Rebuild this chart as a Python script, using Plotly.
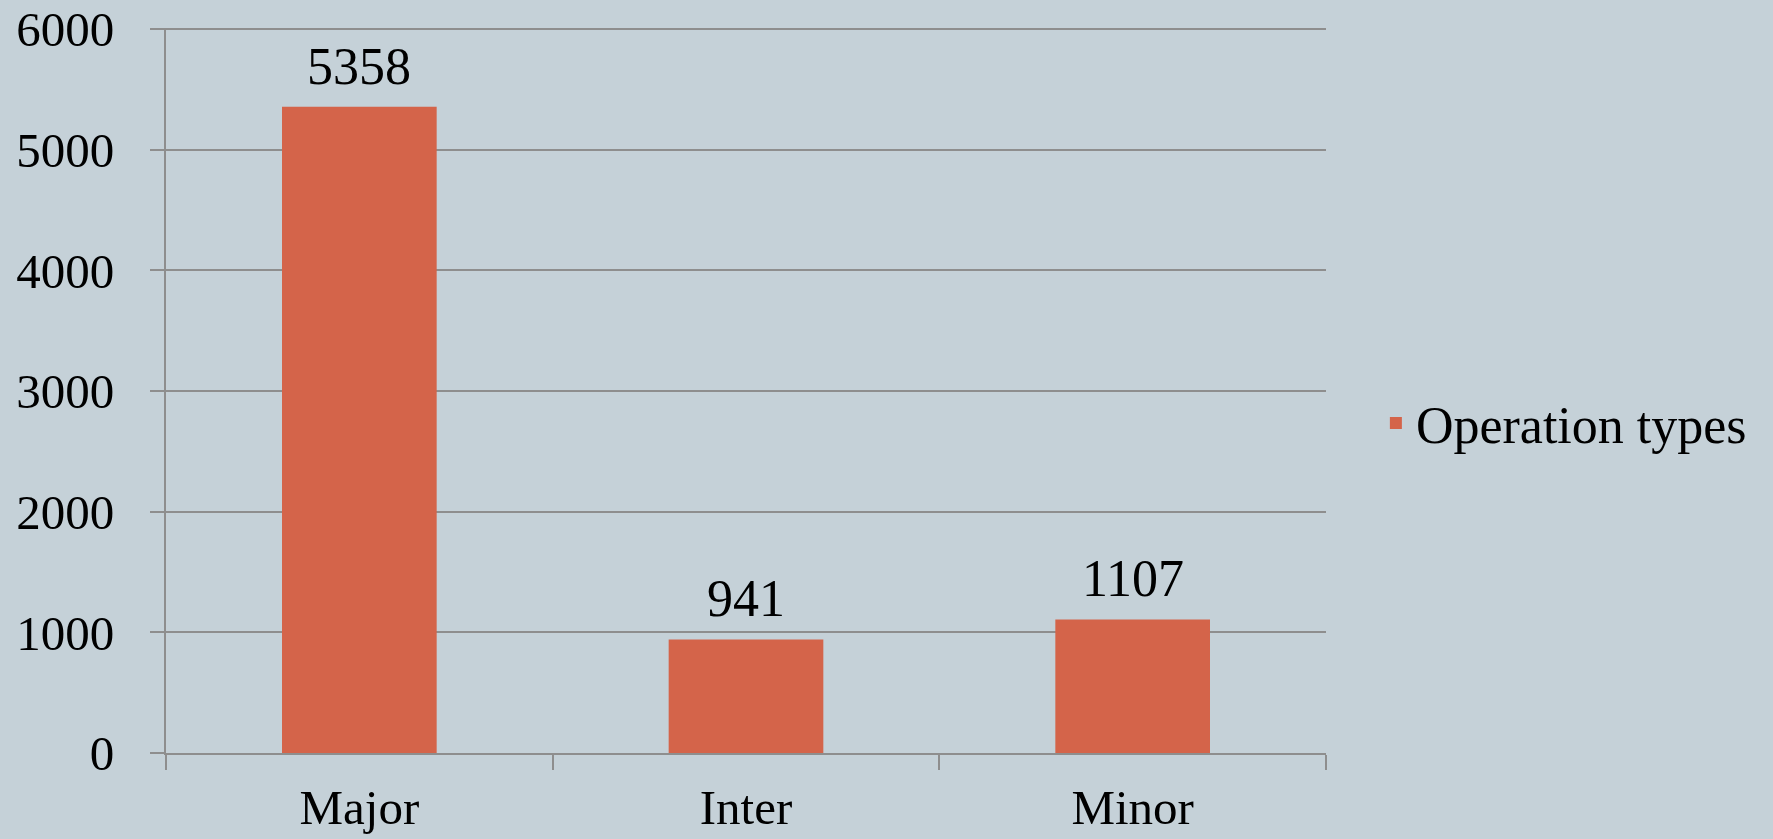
import plotly.graph_objects as go

# ── Colours ───────────────────────────────────────────────────────────────────
BG_COLOR = "#C5D1D8"
BAR_COLOR = "#D4644A"
GRID_COLOR = "#8E8E8E"
TEXT_COLOR = "#000000"
FONT = "Liberation Serif, Times New Roman, serif"

# ── Data ──────────────────────────────────────────────────────────────────────
categories = ["Major", "Inter", "Minor"]
values = [5358, 941, 1107]
series_name = "Operation types"
y_ticks = [0, 1000, 2000, 3000, 4000, 5000, 6000]

fig = go.Figure()
fig.add_trace(go.Bar(
    name=series_name,
    x=categories,
    y=values,
    marker=dict(color=BAR_COLOR, line=dict(width=0)),
    showlegend=True,
))

# value labels above bars
for cat, val in zip(categories, values):
    fig.add_annotation(
        x=cat, y=val, text=str(val), showarrow=False,
        yanchor="bottom", yshift=10,
        font=dict(family=FONT, size=52, color=TEXT_COLOR),
    )

fig.update_layout(
    paper_bgcolor=BG_COLOR,
    plot_bgcolor=BG_COLOR,
    width=1773,
    height=839,
    font=dict(family=FONT, color=TEXT_COLOR, size=50),
    margin=dict(l=166, r=447, t=28, b=86),
    bargap=0.6,
    showlegend=True,
    legend=dict(
        x=1.043, y=0.455, xanchor="left", yanchor="middle",
        bgcolor="rgba(0,0,0,0)",
        font=dict(family=FONT, size=52, color=TEXT_COLOR),
    ),
    xaxis=dict(
        automargin=False,
        showgrid=False,
        showline=True, linecolor=GRID_COLOR, linewidth=2,
        ticks="outside", tickson="boundaries", ticklen=15,
        tickcolor=GRID_COLOR, tickwidth=2,
        tickfont=dict(family=FONT, size=49, color=TEXT_COLOR),
        ticklabelstandoff=10,
        ticklabeloverflow="allow",
    ),
    yaxis=dict(
        automargin=False,
        range=[0, 6010],
        tickvals=y_ticks,
        showgrid=True, gridcolor=GRID_COLOR, gridwidth=2,
        showline=True, linecolor=GRID_COLOR, linewidth=2,
        ticks="outside", ticklen=14, tickcolor=GRID_COLOR, tickwidth=2,
        tickfont=dict(family=FONT, size=49, color=TEXT_COLOR),
        ticklabelstandoff=26,
        ticklabeloverflow="allow",
        zeroline=False,
    ),
)

fig.write_html(
    "out.html",
    config={"displayModeBar": False},
    post_script="document.body.style.margin='0';",
)
